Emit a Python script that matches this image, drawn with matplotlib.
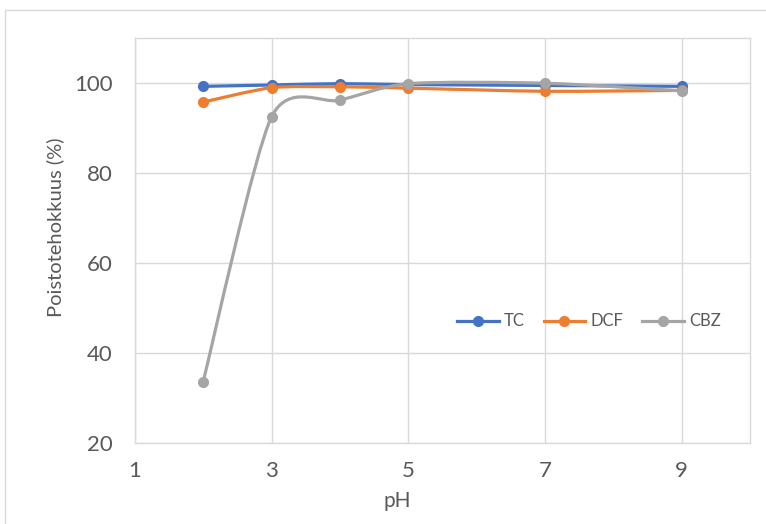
import numpy as np
import matplotlib.pyplot as plt
from matplotlib.path import Path
from matplotlib.patches import PathPatch, Rectangle
from matplotlib.lines import Line2D

plt.rcParams['font.family'] = ['Lato', 'DejaVu Sans']

ph = [2, 3, 4, 5, 7, 9]
tc = [99.3, 99.6, 99.9, 99.7, 99.5, 99.3]
dcf = [95.8, 99.0, 99.2, 98.9, 98.2, 98.4]
cbz = [33.6, 92.5, 96.2, 99.9, 100.0, 98.3]

series = [("TC", tc, "#4472C4"), ("DCF", dcf, "#ED7D31"), ("CBZ", cbz, "#A5A5A5")]


def smooth_path(x, y, k=8.0):
    # smoothed line like Excel: cubic bezier segments through the points
    pts = np.column_stack([x, y]).astype(float)
    n = len(pts)
    verts = [pts[0]]
    codes = [Path.MOVETO]
    for i in range(n - 1):
        p0 = pts[i - 1] if i > 0 else pts[i]
        p1 = pts[i]
        p2 = pts[i + 1]
        p3 = pts[i + 2] if i + 2 < n else pts[i + 1]
        c1 = p1 + (p2 - p0) / k
        c2 = p2 - (p3 - p1) / k
        verts += [c1, c2, p2]
        codes += [Path.CURVE4] * 3
    return Path(verts, codes)


fig = plt.figure(figsize=(7.66, 5.24), dpi=100)
ax = fig.add_axes([0.176, 0.155, 0.803, 0.772])

grid_c = "#D9D9D9"
text_c = "#595959"

for name, vals, col in series:
    ax.add_patch(PathPatch(smooth_path(ph, vals), facecolor="none", edgecolor=col,
                           lw=2.3, capstyle="round", zorder=3))
    ax.plot(ph, vals, linestyle="none", marker="o", markersize=7, color=col, zorder=4)

ax.set_xlim(1, 10)
ax.set_ylim(20, 110)
ax.set_xticks([1, 3, 5, 7, 9])
ax.set_yticks([20, 40, 60, 80, 100])
ax.grid(True, color=grid_c, lw=1)
ax.set_axisbelow(True)
for s in ax.spines.values():
    s.set_color(grid_c)
    s.set_linewidth(1)
ax.tick_params(length=0, colors=text_c, labelsize=16)
ax.tick_params(axis="x", pad=13)
ax.tick_params(axis="y", pad=16)

ax.set_xlabel("pH", fontsize=15, color=text_c)
ax.set_ylabel("Poistotehokkuus (%)", fontsize=14.5, color=text_c)
ax.xaxis.set_label_coords(0.426, -0.118)
ax.yaxis.set_label_coords(-0.115, 0.533)

handles = [Line2D([], [], color=col, lw=2.3, marker="o", markersize=7) for _, _, col in series]
ax.legend(handles, [s[0] for s in series], loc="center", bbox_to_anchor=(0.738, 0.30),
          ncol=3, frameon=False, fontsize=12, labelcolor=text_c, handlelength=2.5,
          handletextpad=0.3, columnspacing=1.15)

fig.add_artist(Rectangle((5 / 766, -0.05), 1.1, 1 - 10 / 524 + 0.05,
                         transform=fig.transFigure, fill=False,
                         edgecolor=grid_c, lw=1, clip_on=False))

fig.savefig("out.png", dpi=100)
